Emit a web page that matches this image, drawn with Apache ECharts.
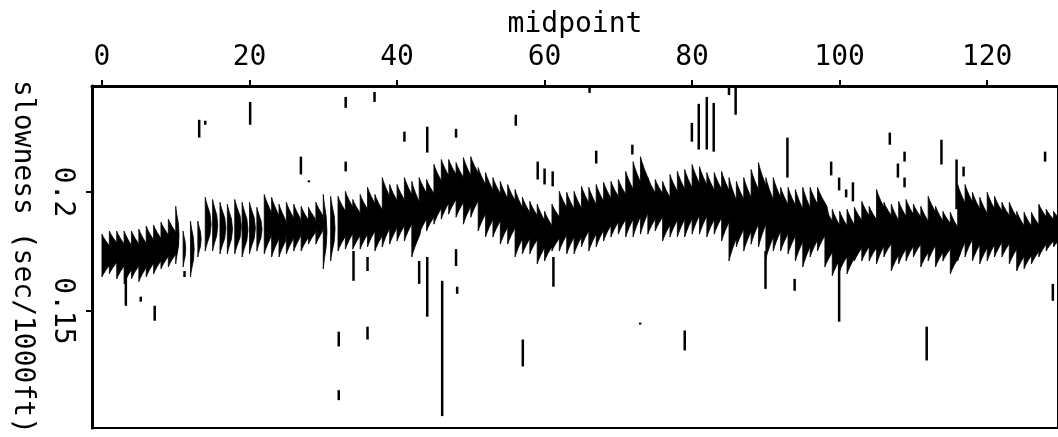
<!DOCTYPE html>
<html>
<head>
<meta charset="utf-8">
<script src="https://cdn.jsdelivr.net/npm/echarts@6/dist/echarts.min.js"></script>
<style>html,body{margin:0;padding:0;background:#fff;}#c{width:1058px;height:437px;}</style>
</head>
<body>
<div id="c"></div>
<script>
// ---- data ----
const xTicks = [0, 20, 40, 60, 80, 100, 120];
const yTicks = [0.15, 0.2];
const xTitle = 'midpoint';
const yTitle = 'slowness (sec/1000ft)';

// one wiggle trace per midpoint 0..129
const traceTop = [
  0.1823,0.1836,0.1836,0.1836,0.1836,0.1844,0.1857,0.1861,0.1873,0.1886,
  0.1940,0.1836,0.1878,0.1878,0.1978,0.1969,0.1957,0.1949,0.1969,0.1957,
  0.1957,0.1936,0.1990,0.1978,0.1949,0.1957,0.1949,0.1940,0.1936,0.1957,
  0.1990,0.1982,0.1982,0.2003,0.1969,0.1990,0.2020,0.1990,0.2061,0.2032,
  0.2032,0.2061,0.2045,0.2061,0.2053,0.2116,0.2137,0.2137,0.2124,0.2145,
  0.2149,0.2103,0.2082,0.2061,0.2045,0.2032,0.2011,0.1978,0.1961,0.1949,
  0.1919,0.1949,0.2003,0.1999,0.2003,0.2024,0.2020,0.2032,0.2041,0.2045,
  0.2053,0.2087,0.2128,0.2149,0.2061,0.2053,0.2045,0.2074,0.2087,0.2095,
  0.2116,0.2107,0.2082,0.2082,0.2087,0.2061,0.2045,0.2061,0.2095,0.2124,
  0.2061,0.2061,0.2020,0.2020,0.2011,0.2020,0.2020,0.2020,0.1940,0.1928,
  0.1919,0.1928,0.1936,0.1961,0.1940,0.2011,0.1957,0.1949,0.1961,0.1969,
  0.1949,0.1940,0.1982,0.1940,0.1919,0.1915,0.2032,0.2032,0.1999,0.1978,
  0.1999,0.1982,0.1957,0.1957,0.1919,0.1915,0.1915,0.1949,0.1928,0.1919
];
const traceBottom = [
  0.1643,0.1656,0.1635,0.1614,0.1635,0.1623,0.1643,0.1656,0.1677,0.1685,
  0.1698,0.1685,0.1643,0.1727,0.1752,0.1752,0.1740,0.1740,0.1740,0.1727,
  0.1740,0.1752,0.1740,0.1727,0.1727,0.1740,0.1752,0.1752,0.1781,0.1781,
  0.1677,0.1710,0.1752,0.1760,0.1760,0.1760,0.1769,0.1752,0.1769,0.1781,
  0.1794,0.1794,0.1727,0.1823,0.1836,0.1865,0.1886,0.1907,0.1894,0.1865,
  0.1894,0.1836,0.1811,0.1811,0.1781,0.1781,0.1727,0.1740,0.1740,0.1698,
  0.1710,0.1752,0.1752,0.1740,0.1740,0.1769,0.1752,0.1769,0.1794,0.1811,
  0.1823,0.1811,0.1811,0.1823,0.1823,0.1836,0.1794,0.1811,0.1811,0.1811,
  0.1823,0.1823,0.1811,0.1823,0.1794,0.1710,0.1769,0.1752,0.1781,0.1769,
  0.1719,0.1752,0.1752,0.1740,0.1710,0.1685,0.1727,0.1752,0.1685,0.1648,
  0.1668,0.1656,0.1710,0.1710,0.1710,0.1698,0.1727,0.1668,0.1698,0.1710,
  0.1727,0.1685,0.1710,0.1685,0.1710,0.1656,0.1710,0.1727,0.1710,0.1698,
  0.1710,0.1727,0.1727,0.1698,0.1668,0.1677,0.1698,0.1727,0.1752,0.1769
];
// trace amplitude (midpoint units)
const traceAmp = [
  1.4,1.4,1.4,1.4,1.4,1.4,1.4,1.4,1.4,1.4,
  0.45,0.35,0.5,0.45,0.8,0.7,0.8,0.7,0.9,0.8,
  0.8,0.7,1.2,1.2,1.1,1.2,1.1,1.2,1.1,1.1,
  0.5,0.6,1.4,1.4,1.4,1.4,1.4,1.4,1.4,1.4,
  1.4,1.4,1.4,1.4,1.4,1.4,1.4,1.4,1.4,1.4,
  1.4,1.4,1.4,1.4,1.4,1.4,1.4,1.4,1.4,1.4,
  1.3,1.4,1.4,1.4,1.4,1.4,1.4,1.4,1.4,1.4,
  1.4,1.4,1.4,1.4,1.4,1.4,1.4,1.4,1.4,1.4,
  1.4,1.4,1.4,1.4,1.4,1.4,1.4,1.4,1.4,1.4,
  1.4,1.4,1.4,1.4,1.4,1.5,1.6,1.6,1.6,1.6,
  1.6,1.6,1.6,1.6,1.6,1.6,1.6,1.6,1.6,1.6,
  1.6,1.6,1.6,1.6,1.6,1.6,1.6,1.6,1.6,1.6,
  1.6,1.6,1.6,1.6,1.6,1.6,1.6,1.6,1.6,1.6
];
// isolated short events: [midpoint, slowness top, slowness bottom]
const spikes = [
  [13.18,0.2304,0.2229],[14.0,0.2300,0.2283],[20.09,0.2379,0.2283],[26.97,0.2149,0.2074],
  [28.05,0.2049,0.2041],[7.15,0.1522,0.1459],[5.26,0.1560,0.1539],[11.19,0.1668,0.1643],
  [33.04,0.2400,0.2354],[36.95,0.2421,0.2379],[33.04,0.2128,0.2087],[41.0,0.2254,0.2212],
  [44.1,0.2275,0.2166],[48.0,0.2266,0.2229],[56.1,0.2325,0.2279],[59.07,0.2128,0.2053],
  [60.0,0.2099,0.2032],[61.1,0.2087,0.2024],[32.1,0.1413,0.1351],[36.0,0.1434,0.1380],
  [32.1,0.1167,0.1125],[57.05,0.1380,0.1267],[48.15,0.1602,0.1572],[46.12,0.1627,0.1058],
  [44.1,0.1727,0.1476],[43.0,0.1710,0.1614],[36.0,0.1727,0.1668],[34.1,0.1752,0.1627],
  [48.0,0.1760,0.1689],[61.2,0.1727,0.1602],[3.24,0.1643,0.1522],[66.1,0.2442,0.2417],
  [67.0,0.2174,0.2120],[71.9,0.2199,0.2158],[79.97,0.2291,0.2212],[80.9,0.2371,0.2179],
  [81.99,0.2400,0.2179],[82.93,0.2375,0.2170],[85.0,0.2442,0.2408],[85.9,0.2442,0.2325],
  [92.92,0.2229,0.2061],[72.96,0.1451,0.1443],[79.0,0.1418,0.1334],[93.9,0.1635,0.1585],
  [89.95,0.1752,0.1593],[106.8,0.2250,0.2199],[113.8,0.2220,0.2116],[127.85,0.2170,0.2128],
  [98.85,0.2128,0.2070],[99.93,0.2061,0.2007],[100.88,0.2011,0.1978],[101.8,0.2041,0.1961],
  [107.9,0.2120,0.2061],[108.8,0.2170,0.2128],[108.8,0.2061,0.2020],[115.85,0.2137,0.1928],
  [116.8,0.2107,0.2066],[99.93,0.1752,0.1455],[111.8,0.1434,0.1292],[128.9,0.1614,0.1543]
];

// ---- chart ----
const traces = traceTop.map((t, i) => [i, t, traceBottom[i], traceAmp[i]]);
const FONT = 'DejaVu Sans Mono';
// wiggle shape (fraction along trace, fraction of amplitude)
const profT = [0, 0.06, 0.15, 0.3, 0.5, 0.7, 0.85, 0.94, 1];
const profF = [0, 0.12, 0.35, 0.8, 1, 0.8, 0.35, 0.12, 0];

const chart = echarts.init(document.getElementById('c'), null, {renderer: 'canvas'});
chart.setOption({
  animation: false,
  backgroundColor: '#fff',
  grid: {left: 89, top: 86, right: -2, bottom: 7, show: true, borderColor: '#000', borderWidth: 2, backgroundColor: 'transparent'},
  xAxis: {
    type: 'value', position: 'top', min: -1.349, max: 129.6,
    name: xTitle, nameLocation: 'middle', nameGap: 47,
    nameTextStyle: {fontFamily: FONT, fontSize: 28, color: '#000'},
    axisLine: {show: true, onZero: false, lineStyle: {color: '#000', width: 3}},
    axisTick: {show: true, customValues: xTicks, length: 6, lineStyle: {color: '#000', width: 2}},
    axisLabel: {show: true, customValues: xTicks, margin: 14, fontFamily: FONT, fontSize: 28, color: '#000'},
    splitLine: {show: false}
  },
  yAxis: {
    type: 'value', min: 0.1008, max: 0.2446,
    name: yTitle, nameLocation: 'middle', nameRotate: -90, nameGap: 56,
    nameTextStyle: {fontFamily: FONT, fontSize: 28, color: '#000'},
    axisLine: {show: true, onZero: false, lineStyle: {color: '#000', width: 3}},
    axisTick: {show: true, customValues: yTicks, length: 6, lineStyle: {color: '#000', width: 2}},
    axisLabel: {show: true, customValues: yTicks, rotate: -90, margin: 16, fontFamily: FONT, fontSize: 28, color: '#000',
      formatter: v => String(+(+v).toFixed(2))},
    splitLine: {show: false}
  },
  series: [
    {
      type: 'custom', clip: true, data: traces,
      encode: {x: 0, y: [1, 2]},
      renderItem: (params, api) => {
        const m = api.value(0), top = api.value(1), bot = api.value(2), w = api.value(3);
        const pts = [];
        pts.push(api.coord([m, top]));
        pts.push(api.coord([m, bot]));
        for (let k = profT.length - 1; k >= 0; k--) {
          const s = top + (bot - top) * profT[k];
          pts.push(api.coord([m + w * profF[k], s]));
        }
        return {type: 'polygon', shape: {points: pts}, style: {fill: '#000', stroke: '#000', lineWidth: 0.8}};
      }
    },
    {
      type: 'custom', clip: true, data: spikes,
      encode: {x: 0, y: [1, 2]},
      renderItem: (params, api) => {
        const a = api.coord([api.value(0), api.value(1)]);
        const b = api.coord([api.value(0), api.value(2)]);
        return {type: 'line', shape: {x1: a[0], y1: a[1], x2: b[0], y2: b[1]}, style: {stroke: '#000', lineWidth: 2.5}};
      }
    }
  ]
});
</script>
</body>
</html>
